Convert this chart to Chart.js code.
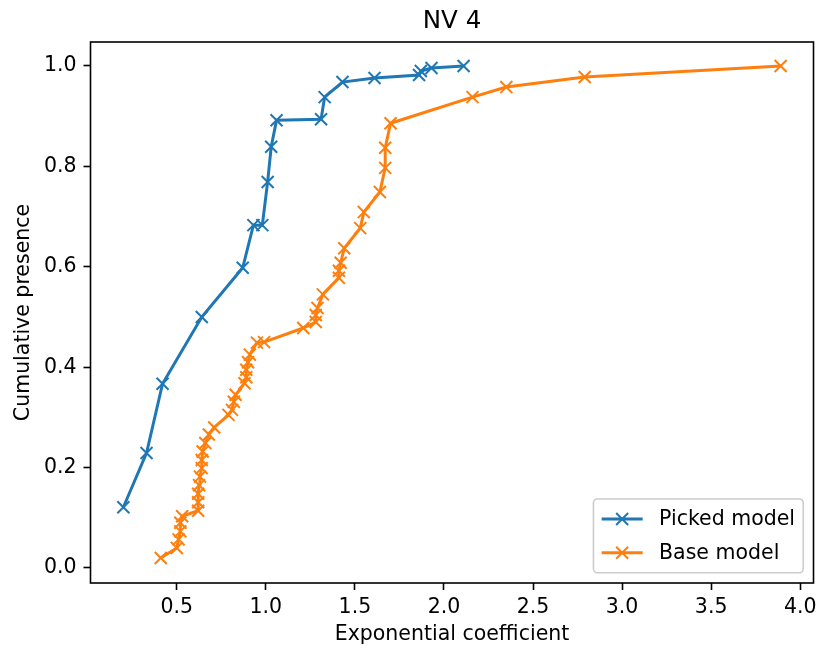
<!DOCTYPE html>
<html><head><meta charset="utf-8">
<script src="https://cdn.jsdelivr.net/npm/chart.js@4/dist/chart.umd.min.js"></script>
<style>html,body{margin:0;padding:0;background:#fff}#wrap{width:824px;height:652px;position:relative}</style>
</head><body><div id="wrap"><canvas id="c" width="824" height="652"></canvas></div>
<script>
const titleText = "NV 4";
const xAxisLabel = "Exponential coefficient";
const yAxisLabel = "Cumulative presence";
const seriesNames = ["Picked model", "Base model"];
const seriesColors = ["#1f77b4", "#ff7f0e"];

const pickedX = [0.20, 0.33, 0.42, 0.64, 0.87, 0.93, 0.98, 1.01, 1.03, 1.06, 1.31, 1.33, 1.43, 1.61, 1.86, 1.87, 1.93, 2.11];
const pickedY = [0.121, 0.229, 0.367, 0.500, 0.598, 0.683, 0.683, 0.769, 0.839, 0.892, 0.894, 0.938, 0.968, 0.976, 0.982, 0.990, 0.996, 1.000];

const baseX = [0.41, 0.50, 0.51, 0.52, 0.52, 0.53, 0.62, 0.62, 0.62, 0.625, 0.63, 0.64, 0.64, 0.645, 0.66, 0.68, 0.71, 0.79, 0.81, 0.82, 0.83, 0.88, 0.89, 0.89, 0.90, 0.91, 0.95, 0.99, 1.21, 1.28, 1.28, 1.29, 1.32, 1.41, 1.41, 1.42, 1.44, 1.53, 1.55, 1.64, 1.67, 1.67, 1.70, 2.16, 2.35, 2.79, 3.89];
const baseY = [0.020, 0.040, 0.057, 0.073, 0.090, 0.103, 0.114, 0.131, 0.148, 0.165, 0.182, 0.199, 0.215, 0.232, 0.249, 0.266, 0.280, 0.305, 0.315, 0.331, 0.345, 0.368, 0.380, 0.395, 0.410, 0.425, 0.449, 0.450, 0.478, 0.490, 0.504, 0.518, 0.545, 0.578, 0.592, 0.608, 0.637, 0.677, 0.709, 0.749, 0.797, 0.837, 0.886, 0.938, 0.958, 0.978, 1.000];

const xTicks = [0.5, 1.0, 1.5, 2.0, 2.5, 3.0, 3.5, 4.0];
const yTicks = [0.0, 0.2, 0.4, 0.6, 0.8, 1.0];

const FONT = '"DejaVu Sans", sans-serif';
const FS = 20.5;

function pts(xs, ys) { return xs.map((x, i) => ({x: x, y: ys[i]})); }

const framePlugin = {
  id: 'frame',
  afterDatasetsDraw(chart) {
    const ctx = chart.ctx, a = chart.chartArea;
    ctx.save();
    ctx.strokeStyle = '#000';
    ctx.lineWidth = 1.6;
    ctx.strokeRect(a.left, a.top, a.right - a.left, a.bottom - a.top);
    ctx.restore();
  }
};

const legendPlugin = {
  id: 'boxLegend',
  afterDatasetsDraw(chart) {
    const ctx = chart.ctx, a = chart.chartArea;
    const fs = FS;
    ctx.save();
    ctx.font = fs + 'px ' + FONT;
    const ds = chart.data.datasets;
    const tw = Math.max(...ds.map(d => ctx.measureText(d.label).width));
    const pad = 0.4 * fs, handle = 2 * fs, htp = 0.8 * fs, sp = 0.5 * fs, rowH = fs * 1.15;
    const w = pad * 2 + handle + htp + tw;
    const h = pad * 2 + rowH * ds.length + sp * (ds.length - 1);
    const right = a.right - 0.5 * fs, bottom = a.bottom - 0.5 * fs;
    const left = right - w, top = bottom - h;
    const r = 4;
    ctx.beginPath();
    ctx.moveTo(left + r, top);
    ctx.lineTo(right - r, top); ctx.arcTo(right, top, right, top + r, r);
    ctx.lineTo(right, bottom - r); ctx.arcTo(right, bottom, right - r, bottom, r);
    ctx.lineTo(left + r, bottom); ctx.arcTo(left, bottom, left, bottom - r, r);
    ctx.lineTo(left, top + r); ctx.arcTo(left, top, left + r, top, r);
    ctx.closePath();
    ctx.fillStyle = 'rgba(255,255,255,0.8)';
    ctx.fill();
    ctx.strokeStyle = '#cccccc';
    ctx.lineWidth = 1.6;
    ctx.stroke();
    ds.forEach((d, i) => {
      const cy = top + pad + rowH / 2 + i * (rowH + sp);
      const x0 = left + pad, x1 = x0 + handle, cx = (x0 + x1) / 2;
      ctx.strokeStyle = d.borderColor;
      ctx.lineWidth = 3;
      ctx.beginPath(); ctx.moveTo(x0, cy); ctx.lineTo(x1, cy); ctx.stroke();
      ctx.lineWidth = 2;
      const m = 6;
      ctx.beginPath();
      ctx.moveTo(cx - m, cy - m); ctx.lineTo(cx + m, cy + m);
      ctx.moveTo(cx + m, cy - m); ctx.lineTo(cx - m, cy + m);
      ctx.stroke();
      ctx.fillStyle = '#000';
      ctx.textBaseline = 'middle';
      ctx.textAlign = 'left';
      ctx.fillText(d.label, x1 + htp, cy + 1);
    });
    ctx.restore();
  }
};

const tickFont = {family: FONT, size: FS};

new Chart(document.getElementById('c'), {
  type: 'line',
  data: {
    datasets: [
      {label: seriesNames[0], data: pts(pickedX, pickedY)},
      {label: seriesNames[1], data: pts(baseX, baseY)}
    ].map((d, i) => Object.assign(d, {
      borderColor: seriesColors[i], backgroundColor: seriesColors[i],
      pointBorderColor: seriesColors[i], pointBackgroundColor: seriesColors[i],
      borderWidth: 3, tension: 0, fill: false,
      pointStyle: 'crossRot', pointRadius: 8.5, pointHoverRadius: 8.5,
      pointBorderWidth: 2, pointHoverBorderWidth: 2
    }))
  },
  options: {
    responsive: false, animation: false, devicePixelRatio: 1,
    events: [],
    layout: {padding: {left: 0, right: 6, top: 0, bottom: 0}},
    plugins: {
      legend: {display: false},
      tooltip: {enabled: false},
      title: {display: true, text: titleText, fullSize: false, color: '#000',
        font: {family: FONT, size: 24.5, weight: 'normal'}, padding: {top: 7, bottom: 5.6}}
    },
    scales: {
      x: {
        type: 'linear', min: 0.0155, max: 4.0745,
        afterBuildTicks: s => { s.ticks = xTicks.map(v => ({value: v})); },
        afterFit: s => { s.height = 69; },
        ticks: {callback: v => Number(v).toFixed(1), font: tickFont, color: '#000', padding: 5, maxRotation: 0, autoSkip: false},
        grid: {drawOnChartArea: false, drawTicks: true, tickLength: 7, tickWidth: 1.6, tickColor: '#000'},
        border: {display: false},
        title: {display: true, text: xAxisLabel, color: '#000', font: {family: FONT, size: FS}, padding: {top: 0, bottom: 5}}
      },
      y: {
        type: 'linear', min: -0.0299, max: 1.0478,
        afterBuildTicks: s => { s.ticks = yTicks.map(v => ({value: v})); },
        afterFit: s => { s.width = 90.5; },
        ticks: {callback: v => Number(v).toFixed(1), font: tickFont, color: '#000', padding: 7, autoSkip: false},
        grid: {drawOnChartArea: false, drawTicks: true, tickLength: 7, tickWidth: 1.6, tickColor: '#000'},
        border: {display: false},
        title: {display: true, text: yAxisLabel, color: '#000', font: {family: FONT, size: FS}, padding: {top: 11, bottom: 0}}
      }
    }
  },
  plugins: [framePlugin, legendPlugin]
});
</script>
</body></html>
